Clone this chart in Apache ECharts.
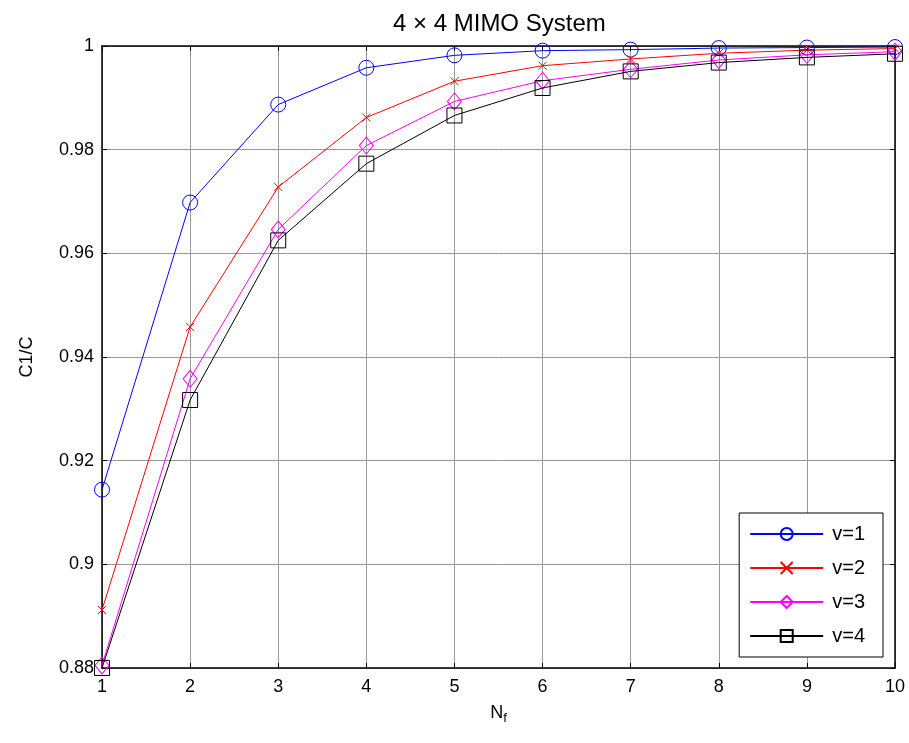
<!DOCTYPE html>
<html><head><meta charset="utf-8">
<script src="https://cdn.jsdelivr.net/npm/echarts@6/dist/echarts.min.js"></script>
<style>html,body{margin:0;padding:0;background:#fff}#c{width:909px;height:743px}</style>
</head><body><div id="c"></div>
<script>
const nf = [1,2,3,4,5,6,7,8,9,10];
const v1 = [0.9144,0.9698,0.9887,0.9958,0.9982,0.9991,0.9993,0.9996,0.9997,0.9998];
const v2 = [0.8912,0.9458,0.9728,0.9862,0.9932,0.9962,0.9975,0.9986,0.9992,0.9995];
const v3 = [0.8805,0.9358,0.9646,0.9808,0.9893,0.9933,0.9955,0.9973,0.9983,0.9989];
const v4 = [0.8800,0.9317,0.9625,0.9773,0.9866,0.9919,0.9951,0.9968,0.9978,0.9985];
const names = ['v=1','v=2','v=3','v=4'];
const colors = ['#0000ff','#ff0000','#ff00ff','#000000'];
const FONT = 'Liberation Sans, Arial, sans-serif';
const crossPath = 'path://M0,0L10,10M10,0L0,10';
const symbols = ['circle', crossPath, 'diamond', 'rect'];
const sizes = [[15,15],[8,8],[14,17],[15,15]];
const vals = [v1,v2,v3,v4];

const chart = echarts.init(document.getElementById('c'));
const series = vals.map((arr,i)=>({
  name: names[i], type:'line',
  data: nf.map((x,j)=>[x,arr[j]]),
  symbol: symbols[i], symbolSize: sizes[i],
  showAllSymbol: true,
  lineStyle:{color:colors[i], width:1},
  itemStyle:{color: i===1 ? colors[i] : 'none', borderColor:colors[i], borderWidth:1},
  emphasis:{disabled:true},
  animation:false, z: 3+i
}));
const fmt = v => String(Math.round(v*100)/100);
chart.setOption({
  animation:false,
  title:{text:'4 × 4 MIMO System', left:388, top:7,
    textStyle:{fontFamily:FONT, fontSize:24, fontWeight:'normal', color:'#000'}},
  grid:{left:102, right:14, top:46, bottom:75, containLabel:false},
  legend:{
    orient:'vertical', right:26, bottom:86,
    backgroundColor:'#fff', borderColor:'#000', borderWidth:1,
    padding:[11,18,11,10], itemWidth:73, itemHeight:15, itemGap:14,
    textStyle:{fontFamily:FONT, fontSize:20, color:'#000', padding:[0,0,0,4]},
    data: names
  },
  xAxis:[{
    type:'value', min:1, max:10, interval:1,
    name:'{n|N}{s|f}', nameLocation:'middle', nameGap:34,
    nameTextStyle:{rich:{n:{fontFamily:FONT,fontSize:18,color:'#000'},
      s:{fontFamily:FONT,fontSize:13,color:'#000',verticalAlign:'bottom',padding:[10,0,0,0]}}},
    axisLine:{show:true,lineStyle:{color:'#000',width:1.5}},
    axisTick:{show:true,inside:true,length:5,lineStyle:{color:'#000'}},
    axisLabel:{fontFamily:FONT,fontSize:18,color:'#000',margin:10},
    splitLine:{show:true,lineStyle:{color:'#999',width:1}}
  },{
    type:'value', min:1, max:10, interval:1, position:'top',
    axisLine:{show:true,lineStyle:{color:'#000',width:1.5}},
    axisTick:{show:true,inside:true,length:5,lineStyle:{color:'#000'}},
    axisLabel:{show:false}, splitLine:{show:false}
  }],
  yAxis:[{
    type:'value', min:0.88, max:1, interval:0.02,
    name:'C1/C', nameLocation:'middle', nameGap:66, nameRotate:90,
    nameTextStyle:{fontFamily:FONT,fontSize:18,color:'#000'},
    axisLine:{show:true,lineStyle:{color:'#000',width:1.5}},
    axisTick:{show:true,inside:true,length:5,lineStyle:{color:'#000'}},
    axisLabel:{fontFamily:FONT,fontSize:18,color:'#000',margin:8,formatter:fmt},
    splitLine:{show:true,lineStyle:{color:'#999',width:1}}
  },{
    type:'value', min:0.88, max:1, interval:0.02, position:'right',
    axisLine:{show:true,lineStyle:{color:'#000',width:1.5}},
    axisTick:{show:true,inside:true,length:5,lineStyle:{color:'#000'}},
    axisLabel:{show:false}, splitLine:{show:false}
  }],
  series: series
});
</script></body></html>
